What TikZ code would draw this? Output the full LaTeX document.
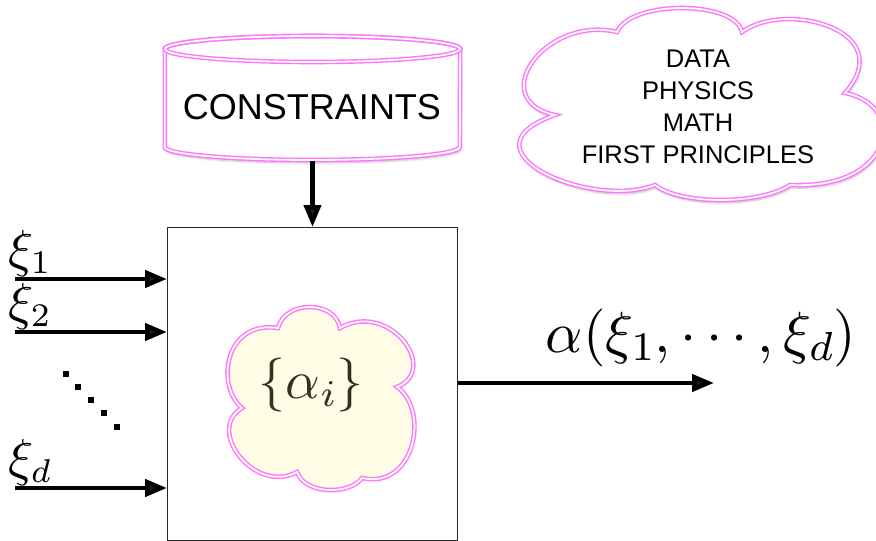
\documentclass[tikz,border=0pt]{standalone}
\usepackage[no-math]{fontspec}
\setmainfont{Liberation Sans}
\usetikzlibrary{arrows.meta,shadows.blur}

% scalable Computer Modern for large formulas
\DeclareFontShape{OT1}{cmr}{m}{n}{<-42> cmr7 <42-> cmr10}{}
\DeclareFontShape{OML}{cmm}{m}{it}{<-42> cmmi7 <42-> cmmi10}{}
\DeclareFontShape{OMS}{cmsy}{m}{n}{<-42> cmsy7 <42-> cmsy10}{}
\DeclareFontShape{OMX}{cmex}{m}{n}{<-> cmex10}{}
\DeclareMathSizes{52}{52}{33}{24}

\definecolor{pinkline}{RGB}{255,115,255}
\definecolor{cloudfill}{RGB}{255,253,230}
\definecolor{olive}{RGB}{52,50,30}
\definecolor{boxline}{RGB}{40,40,40}

\tikzset{
  pinkdouble/.style={draw=pinkline, double=white, double distance=1.8pt, line width=1.4pt},
  softshadow/.style={blur shadow={shadow xshift=1pt, shadow yshift=-3pt, shadow opacity=25, shadow blur steps=6}},
  arr/.style={line width=4.5pt, -{Triangle[length=22pt,width=17pt]}},
  lbl/.style={font=\fontsize{52}{58}\selectfont, inner sep=0pt},
  sq/.style={fill=black},
}

\begin{document}
\begin{tikzpicture}[x=1pt, y=-1pt]
\useasboundingbox (0,0) rectangle (876,541);

% constraint store: a cylinder round an anchor node
\node[minimum width=295pt, minimum height=125pt, inner sep=0pt] (cyl) at (312.5,98) {};
\path[pinkdouble, fill=white, softshadow]
  (cyl.west |- 0,49) -- (cyl.west |- 0,147) arc (180:0:147.5 and 13)
  -- (cyl.east |- 0,49) arc (0:-180:147.5 and 13) -- cycle;
\draw[pinkdouble] (312.5,49) ellipse (147.5 and 13);
\node[font=\fontsize{36}{40}\selectfont] (cons) at (312,107) {CONSTRAINTS};

% sources of knowledge: a cloud outline
\path[pinkdouble, fill=white, softshadow]
  (555,115) .. controls (485,100) and (545,15) .. (617,32)
  .. controls (630,0) and (735,0) .. (742,32)
  .. controls (785,0) and (900,30) .. (845,93)
  .. controls (908,105) and (895,190) .. (790,185)
  .. controls (760,205) and (680,205) .. (655,185)
  .. controls (590,210) and (455,150) .. (555,115) -- cycle;
\node[align=center, font=\fontsize{25.5}{32}\selectfont] (srctext) at (698,107)
  {DATA\\PHYSICS\\MATH\\FIRST PRINCIPLES};

% the model box
\node[draw=boxline, line width=1.3pt, minimum width=290pt, minimum height=313pt,
      anchor=north west, inner sep=0pt] (box) at (167,227) {};

% parameter cloud
\path[pinkdouble, fill=cloudfill]
  (242,408) .. controls (215,385) and (225,320) .. (278,328)
  .. controls (285,300) and (335,300) .. (340,328)
  .. controls (390,300) and (440,370) .. (397,387)
  .. controls (430,410) and (415,490) .. (362,478)
  .. controls (350,495) and (305,495) .. (297,472)
  .. controls (255,495) and (205,430) .. (242,408) -- cycle;
\node[text=olive, inner sep=0pt, font=\fontsize{54}{60}\selectfont] (partext) at (311,385)
  {$\{\alpha_i\}$};

% constraint feeds the box
\draw[arr] (cyl.south) -- (box.north -| cyl.south);

% inputs
\node[lbl, anchor=base west] (x1) at (8,266) {$\xi_1$};
\node[lbl, anchor=base west] (x2) at (8,319) {$\xi_2$};
\node[lbl, anchor=base west] (xd) at (8,475) {$\xi_d$};
\coordinate (s1) at (15,279);
\coordinate (s2) at (15,332);
\coordinate (sd) at (15,488);
\draw[arr] (s1) -- (s1 -| box.west);
\draw[arr] (s2) -- (s2 -| box.west);
\draw[arr] (sd) -- (sd -| box.west);

% diagonal dots between the inputs
\foreach \px/\py in {66/374, 78/387, 91/400, 104/413, 117/427}
  \fill[sq] (\px-3,\py-3) rectangle (\px+3,\py+3);

% output
\coordinate (out) at (714,383);
\draw[arr] (box.east |- out) -- (out);
\node[inner sep=0pt, anchor=base, font=\fontsize{58}{64}\selectfont] (outlbl) at (701,352)
  {$\alpha(\xi_1,\cdots,\xi_d)$};
\end{tikzpicture}
\end{document}
